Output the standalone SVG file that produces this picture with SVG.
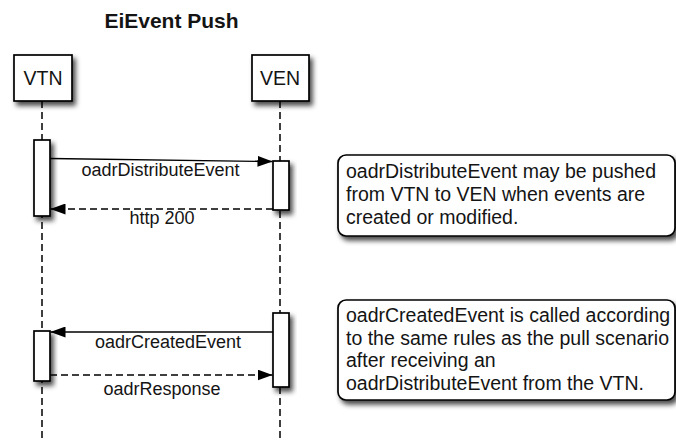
<svg xmlns="http://www.w3.org/2000/svg" width="676" height="441" viewBox="0 0 676 441">
  <style>
    text { font-family: "Liberation Sans", Arial, sans-serif; fill: #141414; }
    .title { font-size: 21px; font-weight: bold; text-anchor: middle; }
    .actor { font-size: 19.5px; text-anchor: middle; }
    .msg { font-size: 18px; text-anchor: middle; }
    .note-text { font-size: 19.5px; }
    .box { fill: #ffffff; stroke: #000000; stroke-width: 1.7; filter: url(#shadow); }
    .life { stroke: #000000; stroke-width: 1.5; stroke-dasharray: 7 4; fill: none; }
    .call { stroke: #000000; stroke-width: 1.3; fill: none; marker-end: url(#head); }
    .reply { stroke: #000000; stroke-width: 1.3; fill: none; stroke-dasharray: 7 4; marker-end: url(#head); }
  </style>
  <defs>
    <filter id="shadow" x="-30%" y="-30%" width="180%" height="180%">
      <feDropShadow dx="3" dy="4" stdDeviation="2.5" flood-color="#000000" flood-opacity="0.7"/>
    </filter>
    <marker id="head" viewBox="0 0 15 11" refX="15" refY="5.5" markerWidth="15" markerHeight="11" markerUnits="userSpaceOnUse" orient="auto">
      <path d="M0,0 L15,5.5 L0,11 Z" fill="#000000"/>
    </marker>
  </defs>

  <text class="title" x="171.5" y="28">EiEvent Push</text>

  <!-- lifelines -->
  <g id="lifelines">
    <line class="life" x1="42" y1="101" x2="42" y2="441"/>
    <line class="life" x1="280" y1="101" x2="280" y2="441"/>
  </g>

  <!-- participants -->
  <g id="vtn">
    <rect class="box" x="14" y="55" width="58" height="46"/>
    <text class="actor" x="43" y="85">VTN</text>
  </g>
  <g id="ven">
    <rect class="box" x="252" y="55" width="57" height="46"/>
    <text class="actor" x="280" y="85">VEN</text>
  </g>

  <!-- activation bars -->
  <g id="vtn-activation-1"><rect class="box" x="34" y="140" width="16" height="76"/></g>
  <g id="ven-activation-1"><rect class="box" x="273" y="161" width="16" height="49"/></g>
  <g id="vtn-activation-2"><rect class="box" x="34" y="331" width="16" height="50"/></g>
  <g id="ven-activation-2"><rect class="box" x="273" y="313" width="16" height="74"/></g>

  <!-- messages -->
  <g id="connectors">
    <line class="call" x1="50" y1="158.5" x2="272.5" y2="161.5"/>
    <text class="msg" x="160.5" y="176">oadrDistributeEvent</text>
    <line class="reply" x1="273" y1="209" x2="50.5" y2="209"/>
    <text class="msg" x="162" y="224">http 200</text>
    <line class="call" x1="273" y1="332" x2="50.5" y2="332"/>
    <text class="msg" x="168" y="348">oadrCreatedEvent</text>
    <line class="reply" x1="50" y1="375" x2="272.5" y2="375"/>
    <text class="msg" x="162" y="395">oadrResponse</text>
  </g>

  <!-- notes -->
  <g id="note-push">
    <rect class="box" x="338" y="155" width="337" height="81" rx="8" ry="8"/>
    <text class="note-text" x="346" y="178">oadrDistributeEvent may be pushed</text>
    <text class="note-text" x="346" y="201">from VTN to VEN when events are</text>
    <text class="note-text" x="346" y="224">created or modified.</text>
  </g>
  <g id="note-created">
    <rect class="box" x="338" y="300" width="337" height="100" rx="8" ry="8"/>
    <text class="note-text" x="346" y="322">oadrCreatedEvent is called according</text>
    <text class="note-text" x="346" y="345">to the same rules as the pull scenario</text>
    <text class="note-text" x="346" y="367">after receiving an</text>
    <text class="note-text" x="346" y="390">oadrDistributeEvent from the VTN.</text>
  </g>
</svg>
